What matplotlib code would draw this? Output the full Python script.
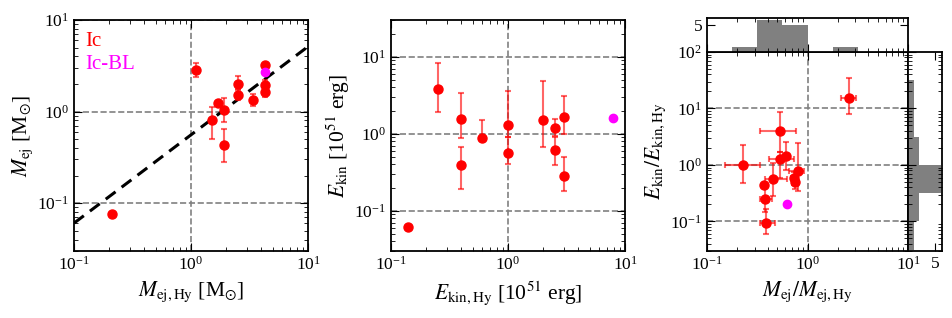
import numpy as np
import matplotlib
matplotlib.use("Agg")
import matplotlib.pyplot as plt

plt.rcParams['font.family'] = ['Liberation Serif', 'DejaVu Serif']
plt.rcParams['mathtext.fontset'] = 'stix'
plt.rcParams['xtick.direction'] = 'in'
plt.rcParams['ytick.direction'] = 'in'
plt.rcParams['xtick.top'] = True
plt.rcParams['ytick.right'] = True

# panel 1: ejecta mass (Ic), bounds of error bars
mej_hy = [0.21, 1.11, 1.51, 1.71, 1.92, 1.92, 2.51, 2.51, 3.40, 4.33, 4.33, 4.33]
mej = [0.076, 2.82, 0.80, 1.25, 1.03, 0.43, 2.02, 1.52, 1.34, 3.23, 1.95, 1.62]
mej_lo = [0.076, 2.37, 0.50, 1.25, 0.77, 0.28, 1.77, 1.35, 1.16, 3.23, 1.72, 1.43]
mej_hi = [0.076, 3.37, 1.13, 1.25, 1.40, 0.64, 2.47, 1.72, 1.56, 3.23, 2.23, 1.81]
mej_hy_bl = [4.33]
mej_bl = [2.69]
# dashed relation M_ej = norm * M_ej,Hy^slope
fit_norm = 0.557
fit_slope = 0.964

# panel 2: kinetic energy
ekin_hy = [0.14, 0.25, 0.40, 0.40, 0.60, 1.0, 1.0, 2.0, 2.5, 2.5, 3.0, 3.0]
ekin = [0.062, 3.8, 1.55, 0.39, 0.88, 1.28, 0.57, 1.50, 1.17, 0.61, 1.64, 0.28]
ekin_lo = [0.062, 1.94, 0.88, 0.19, 0.88, 0.90, 0.41, 0.67, 0.93, 0.39, 1.0, 0.18]
ekin_hi = [0.062, 8.3, 3.4, 0.67, 1.52, 3.6, 0.90, 4.83, 1.55, 0.90, 3.1, 0.50]
ekin_hy_bl = [7.9]
ekin_bl = [1.61]

# panel 3: ratios
mratio = [0.228, 2.57, 0.53, 0.53, 0.61, 0.366, 0.38, 0.39, 0.454, 0.73, 0.75, 0.80]
eratio = [0.98, 15.5, 3.95, 1.29, 1.46, 0.447, 0.25, 0.094, 0.56, 0.59, 0.49, 0.77]
mratio_lo = [0.15, 2.17, 0.334, 0.41, 0.61, 0.366, 0.334, 0.34, 0.38, 0.68, 0.71, 0.66]
mratio_hi = [0.34, 3.01, 0.76, 0.73, 0.61, 0.366, 0.44, 0.47, 0.62, 0.80, 0.79, 0.93]
eratio_lo = [0.48, 8.0, 1.7, 0.6, 0.83, 0.447, 0.15, 0.06, 0.28, 0.45, 0.38, 0.34]
eratio_hi = [2.23, 34, 8.6, 1.7, 2.6, 0.447, 0.45, 0.166, 1.08, 0.75, 0.60, 2.46]
mratio_bl = [0.62]
eratio_bl = [0.203]


def asym(v, lo, hi):
    v = np.array(v)
    return [v - np.array(lo), np.array(hi) - v]


def points(ax, x, y, xerr, yerr, xbl, ybl):
    ax.errorbar(x, y, xerr=xerr, yerr=yerr, fmt='none', ecolor='red', alpha=0.6,
                elinewidth=1.5, capsize=2, capthick=1.5)
    ax.plot(x, y, 'o', color='red', ms=6.5, label='Ic')
    ax.plot(xbl, ybl, 'o', color='magenta', ms=6, label='Ic-BL')


def guides(ax):
    for v in [0.1, 1, 10]:
        ax.axhline(v, color='gray', ls='--', lw=1.2, zorder=0)
    ax.axvline(1, color='gray', ls='--', lw=1.2, zorder=0)


def style(ax):
    ax.tick_params(which='major', length=6, labelsize=12.5)
    ax.tick_params(which='minor', length=3)
    for s in ax.spines.values():
        s.set_linewidth(1.3)


fig = plt.figure(figsize=(9.53, 3.18), dpi=100)
ax1 = fig.add_axes([0.0777, 0.2107, 0.2455, 0.7264])
ax2 = fig.add_axes([0.4103, 0.2107, 0.2455, 0.7264])
ax3 = fig.add_axes([0.7419, 0.2107, 0.2109, 0.6258])
axt = fig.add_axes([0.7419, 0.8365, 0.2109, 0.1069])
axr = fig.add_axes([0.9528, 0.2107, 0.0357, 0.6258])

# panel 1
guides(ax1)
xx = np.array([0.1, 10])
ax1.plot(xx, fit_norm * xx ** fit_slope, 'k--', lw=2.2, dashes=(4, 2.5))
points(ax1, mej_hy, mej, None, asym(mej, mej_lo, mej_hi), mej_hy_bl, mej_bl)
ax1.set_xscale('log')
ax1.set_yscale('log')
ax1.set_xlim(0.1, 10)
ax1.set_ylim(0.03, 10)
ax1.set_xlabel(r'$M_{\rm ej,Hy}$ [M$_{\odot}$]', fontsize=15.5)
ax1.set_ylabel(r'$M_{\rm ej}$ [M$_{\odot}$]', fontsize=15.5, labelpad=2)
leg = ax1.legend(loc='upper left', frameon=False, handlelength=0, handletextpad=0,
                 fontsize=15, labelspacing=0.15, borderaxespad=0.15)
for h in leg.legend_handles:
    h.set_visible(False)
for t, c in zip(leg.get_texts(), ['red', 'magenta']):
    t.set_color(c)
style(ax1)

# panel 2
guides(ax2)
points(ax2, ekin_hy, ekin, None, asym(ekin, ekin_lo, ekin_hi), ekin_hy_bl, ekin_bl)
ax2.set_xscale('log')
ax2.set_yscale('log')
ax2.set_xlim(0.1, 10)
ax2.set_ylim(0.03, 30)
ax2.set_xlabel(r'$E_{\rm kin,Hy}$ [10$^{51}$ erg]', fontsize=15.5)
ax2.set_ylabel(r'$E_{\rm kin}$ [10$^{51}$ erg]', fontsize=15.5, labelpad=2)
style(ax2)

# panel 3
guides(ax3)
points(ax3, mratio, eratio, asym(mratio, mratio_lo, mratio_hi),
       asym(eratio, eratio_lo, eratio_hi), mratio_bl, eratio_bl)
ax3.set_xscale('log')
ax3.set_yscale('log')
ax3.set_xlim(0.1, 10)
ax3.set_ylim(0.03, 100)
ax3.set_xlabel(r'$M_{\rm ej}/M_{\rm ej,Hy}$', fontsize=15.5)
ax3.set_ylabel(r'$E_{\rm kin}/E_{\rm kin,Hy}$', fontsize=15.5, labelpad=2)
style(ax3)

all_m = mratio + mratio_bl
all_e = eratio + eratio_bl
mbins = 10 ** np.arange(-1, 1.01, 0.25)
ebins = 10 ** np.arange(-1.5, 2.01, 0.5)

axt.hist(all_m, bins=mbins, color='gray')
axt.set_xscale('log')
axt.set_xlim(0.1, 10)
axt.set_ylim(0, 6.3)
axt.set_yticks([5])
axt.tick_params(labelbottom=False, top=False)
style(axt)

axr.hist(all_e, bins=ebins, color='gray', orientation='horizontal')
axr.set_yscale('log')
axr.set_ylim(0.03, 100)
axr.set_xlim(0, 6.2)
axr.set_xticks([5])
axr.tick_params(labelleft=False, right=False)
style(axr)

fig.savefig('out.png', dpi=100)
